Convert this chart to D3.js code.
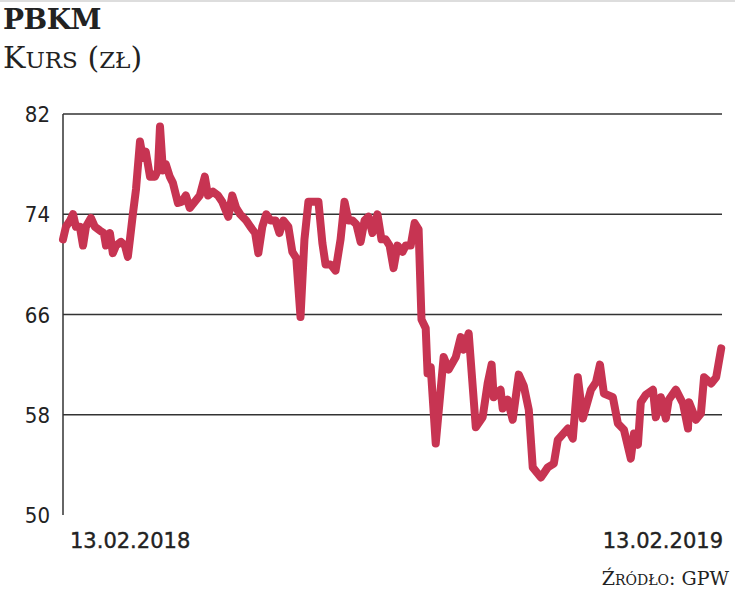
<!DOCTYPE html>
<html><head><meta charset="utf-8">
<script src="https://cdn.jsdelivr.net/npm/d3@7"></script>
<style>body{margin:0;background:#fff}</style></head>
<body><svg id="c" width="735" height="593"></svg>
<script>
const days=[0,1.1,2.7,3.8,4.9,6.4,7.6,8.7,10.6,12.1,14,15.5,16.3,17.8,18.9,20.1,22,23.5,24.6,25.4,26.5,27.7,29.2,30.3,31.4,32.2,33,34.9,36,36.8,37.9,39,40.5,41.7,43.6,45.1,46.6,48.1,50,51.9,53.8,55,56.9,58.8,60.4,62.7,64.2,65.7,67.2,69.5,71.1,72.9,74.1,75.6,77.1,78.7,80.6,82.1,83.6,85.5,87,88.5,90.1,91.6,93.1,94.6,96.9,98.4,99.6,101.5,103.4,105.3,106.8,108.3,109.8,111.3,112.9,114.4,115.9,117.4,119.3,120.8,122.4,123.9,125.4,126.9,128.8,130,131.9,133.4,134.9,136,137.6,138.3,139.5,141.4,144.4,146.3,149,150.9,152,153.9,156.6,159.2,161.1,162.6,163.4,166,166.8,168.7,170.6,172.9,174.8,176.7,178.2,181.3,183.9,186.2,187.7,191.5,193.4,195.3,197.2,200.3,202.2,203.7,205.2,208.6,210.5,212.8,215.4,216.6,218.1,219.2,221.1,223.8,224.9,226.8,228.7,229.8,232.5,235.2,237.1,237.5,240.1,242,243.2,245.9,247.8,249.7];
const prices=[72,73,73.5,74,73,73,71.5,73,73.7,73,72.7,72.5,71.5,72.5,70.9,71.5,71.8,71.5,70.6,72,74,76,79.8,78.5,79,78,77,77,77.5,81,77.5,78,77,76.5,74.9,75,75.5,74.5,75,75.5,77,75.5,75.8,75.5,75,73.8,75.5,74.5,74,73.5,73,72.5,70.9,73,74,73.5,73.5,72.5,73.5,73,71,70.5,65.8,72,75,75,75,71.7,70,70,69.5,72,75,73.5,73.5,73.2,71.8,73.5,73.8,72.5,74,72,72,71.5,69.7,71.5,71,71.5,71.5,73.3,72.8,65.6,64.9,61.3,61.8,55.7,62.6,61.6,62.6,64.2,63.2,64.5,57,57.8,60.5,62,59.4,60,58.5,59.2,57.6,61.2,60.3,58.4,53.8,53,53.8,54.1,56,56.9,56.1,61,57.7,60,60.6,62,59.7,59.4,57.3,56.8,54.5,56.5,55.6,59,59.6,60,57.8,59.4,57.7,59.2,60,58.9,56.9,59,57.6,58.1,61,60.5,61,63.3];
const yTicks=[50,58,66,74,82];
const xLabels=["13.02.2018","13.02.2019"];
const data=days.map((d,i)=>({d,v:prices[i]}));
const svg=d3.select("#c");
const x=d3.scaleLinear().domain([0,250]).range([63,722]);
const y=d3.scaleLinear().domain([50,82]).range([515,114]);
svg.append("line").attr("x1",735).attr("x2",0).attr("y1",1).attr("y2",1).attr("stroke","#bbb");
svg.append("text").attr("x",3).attr("y",29).text("PBKM").attr("font-family","DejaVu Serif").attr("font-weight","bold").attr("font-size",28).attr("fill","#222").attr("letter-spacing",-0.5);
svg.append("text").attr("x",3).attr("y",68).attr("font-family","DejaVu Serif").attr("font-size",30).attr("fill","#222")
 .html('K<tspan font-size="23">URS</tspan> (<tspan font-size="23">ZŁ</tspan>)');
svg.selectAll("line.g").data(yTicks.filter(t=>t>50)).join("line").attr("class","g")
 .attr("x1",63).attr("x2",722).attr("y1",d=>y(d)).attr("y2",d=>y(d)).attr("stroke","#333").attr("stroke-width",1.5);
svg.append("line").attr("x1",63).attr("x2",63).attr("y1",y(82)).attr("y2",y(50)).attr("stroke","#333").attr("stroke-width",1.5);
svg.selectAll("text.yt").data(yTicks).join("text").attr("class","yt")
 .attr("x",50).attr("y",d=>y(d)+8).attr("text-anchor","end").text(d=>d)
 .attr("font-family","DejaVu Sans Condensed").attr("font-size",22).attr("fill","#222");
svg.append("path").datum(data).attr("d",d3.line().x(d=>x(d.d)).y(d=>y(d.v)))
 .attr("fill","none").attr("stroke","#c73452").attr("stroke-width",8).attr("stroke-linejoin","round").attr("stroke-linecap","round");
svg.append("text").attr("x",70).attr("y",548).text(xLabels[0]).attr("font-family","DejaVu Sans").attr("font-size",21).attr("fill","#222").attr("stroke","#222").attr("stroke-width",0.4);
svg.append("text").attr("x",723).attr("y",548).attr("text-anchor","end").text(xLabels[1]).attr("font-family","DejaVu Sans").attr("font-size",21).attr("fill","#222").attr("stroke","#222").attr("stroke-width",0.4);
svg.append("text").attr("x",729).attr("y",585).attr("text-anchor","end").attr("font-family","DejaVu Serif").attr("font-size",19).attr("fill","#222")
 .html('Ź<tspan font-size="14">RÓDŁO</tspan>: GPW');
</script></body></html>
